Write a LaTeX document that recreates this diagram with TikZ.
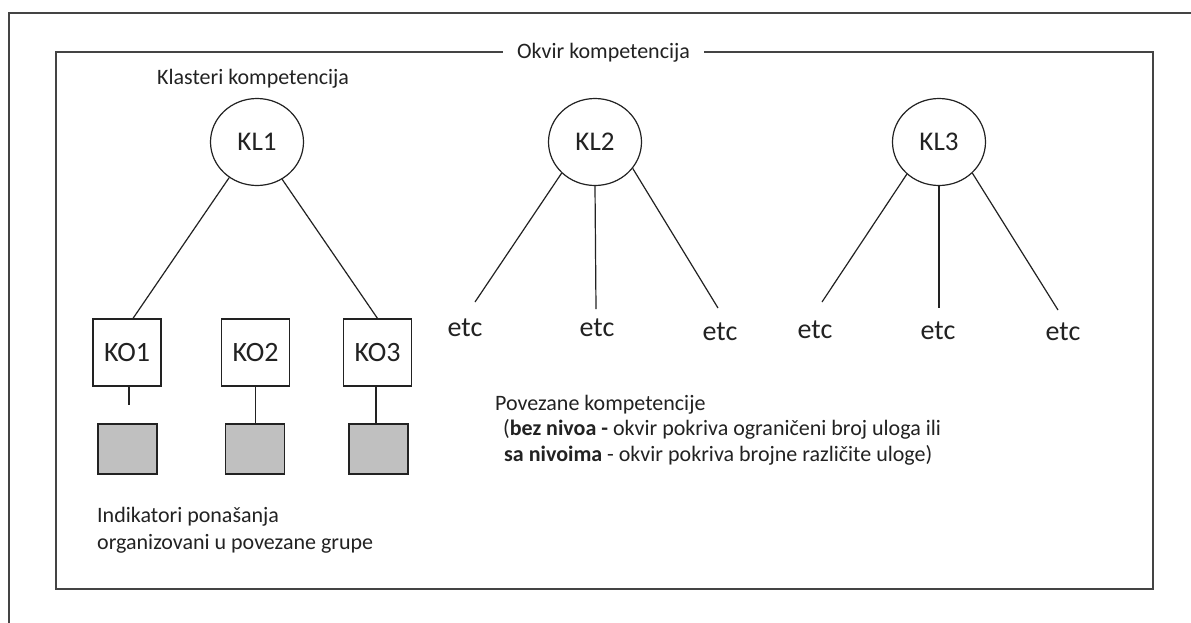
\documentclass[tikz,border=0pt]{standalone}
\usepackage{fontspec}
\setmainfont{Carlito}
\usetikzlibrary{shapes.geometric}
\definecolor{ink}{HTML}{222222}
\definecolor{framecol}{HTML}{444444}
\definecolor{indfill}{HTML}{C0C0C0}
\begin{document}
\begin{tikzpicture}[x=1pt,y=-1pt,
  frame/.style={draw=framecol, line width=1.8pt},
  link/.style={draw=ink, line width=1.2pt},
  cluster/.style={ellipse, draw=ink, line width=1.2pt, minimum width=93, minimum height=87,
    inner sep=0, font=\fontsize{27}{30}\selectfont, text=ink},
  comp/.style={rectangle, draw=ink, line width=1.2pt, minimum width=68, minimum height=67,
    inner sep=0, font=\fontsize{28}{30}\selectfont, text=ink},
  indic/.style={rectangle, draw=ink, line width=1.2pt, fill=indfill,
    minimum width=59, minimum height=50, inner sep=0},
  etclabel/.style={font=\fontsize{28}{30}\selectfont, text=ink, inner sep=0},
  caption/.style={font=\fontsize{22}{27}\selectfont, text=ink, inner sep=0, align=left},
]
\useasboundingbox (0,0) rectangle (1191,622);
\clip (0,0) rectangle (1191,622);
\fill[white] (0,0) rectangle (1191,622);

% outer frame (continues past the right and bottom edges)
\draw[frame] (9,640) -- (9,13) -- (1210,13);
% framework frame with its title set into the top edge
\draw[frame] (56,52) rectangle (1153,589);
\node[caption, fill=white, inner xsep=14, inner ysep=2, anchor=base] (title) at (603.5,58) {Okvir kompetencija};

% competency clusters
\node[caption, anchor=base west] (klcap) at (157,84) {Klasteri kompetencija};
\node[cluster] (kl1) at (257,142) {KL1};
\node[cluster] (kl2) at (595,142) {KL2};
\node[cluster] (kl3) at (939,142) {KL3};

% competencies of the first cluster
\node[comp] (ko1) at (127,352.5) {KO1};
\node[comp] (ko2) at (255.5,352.5) {KO2};
\node[comp] (ko3) at (377.5,352.5) {KO3};

% behavioural indicator groups
\node[indic] (gi1) at (127.5,449) {};
\node[indic] (gi2) at (255,449) {};
\node[indic] (gi3) at (378.5,449) {};

\draw[link] (kl1.232) -- ([xshift=6]ko1.north);
\draw[link] (kl1.304) -- (ko3.north);
\coordinate (stub1) at (129,405);
\draw[link] ([xshift=2]ko1.south) -- (stub1);
\draw[link] (ko2.south) -- (ko2.south |- gi2.north);
\draw[link] ([xshift=-1.5]ko3.south) -- ([xshift=-1.5]ko3.south |- gi3.north);

% open branches of the other clusters
\node[etclabel] (etc21) at (465,328) {etc};
\node[etclabel] (etc22) at (597,328) {etc};
\node[etclabel] (etc23) at (720,332) {etc};
\node[etclabel] (etc31) at (815,330) {etc};
\node[etclabel] (etc32) at (938,331) {etc};
\node[etclabel] (etc33) at (1063,332) {etc};

\coordinate (e21) at (475,302);
\coordinate (e22) at (596,309);
\coordinate (e23) at (718,308);
\coordinate (e31) at (822,302);
\coordinate (e32) at (939,308);
\coordinate (e33) at (1058,310);

\draw[link] (kl2.223) -- (e21);
\draw[link] (kl2.south) -- (e22);
\draw[link] (kl2.325) -- (e23);
\draw[link] (kl3.225) -- (e31);
\draw[link] (kl3.south) -- (e32);
\draw[link] (kl3.317) -- (e33);

% captions (the base anchor sits on the last line)
\node[caption, anchor=base west] (indcap) at (97,549)
  {Indikatori ponašanja\\organizovani u povezane grupe};
\node[caption, font=\fontsize{22}{25.5}\selectfont, anchor=base west] (povcap) at (495,461)
  {Povezane kompetencije\\
   \hspace*{8pt}(\textbf{bez nivoa -} okvir pokriva ograničeni broj uloga ili\\
   \hspace*{9pt}\textbf{sa nivoima} - okvir pokriva brojne različite uloge)};
\end{tikzpicture}
\end{document}
